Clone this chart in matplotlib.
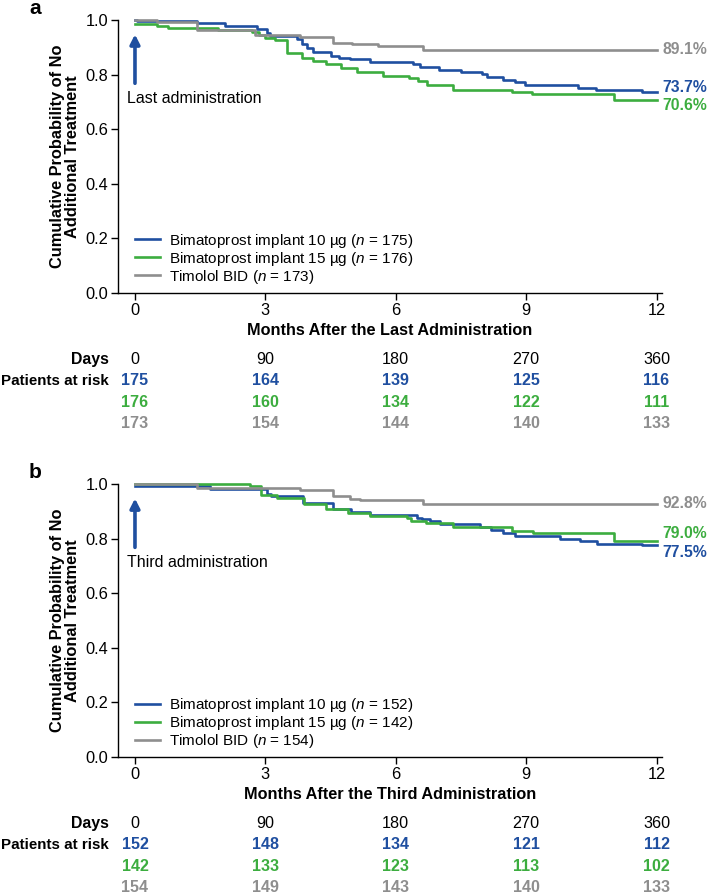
import matplotlib
matplotlib.use('Agg')
import matplotlib.pyplot as plt
import matplotlib.transforms as mtransforms

plt.rcParams['font.family'] = ['Liberation Sans', 'DejaVu Sans']
plt.rcParams['mathtext.fontset'] = 'custom'
plt.rcParams['mathtext.it'] = 'Liberation Sans:italic'
plt.rcParams['mathtext.rm'] = 'Liberation Sans'

BLUE = '#1f4fa0'
GREEN = '#3cad3f'
GRAY = '#8e8e8e'

# --- panel a: after the last administration ---
a_blue_t = [0, 0.05, 1.43, 2.07, 2.8, 3.03, 3.1, 3.72, 3.85, 3.95, 4.1, 4.52, 4.7, 4.94, 5.4,
            6.4, 6.55, 7.0, 7.5, 7.98, 8.1, 8.46, 8.74, 8.97, 10.2, 10.6, 11.66, 12]
a_blue_v = [1.0, 0.995, 0.987, 0.978, 0.967, 0.953, 0.941, 0.929, 0.912, 0.898, 0.884, 0.868, 0.86,
            0.856, 0.846, 0.838, 0.828, 0.818, 0.811, 0.801, 0.79, 0.781, 0.771, 0.763, 0.752, 0.744,
            0.737, 0.737]
a_green_t = [0, 0.5, 0.76, 1.9, 2.7, 2.85, 3.0, 3.22, 3.49, 3.84, 4.1, 4.4, 4.75, 5.1, 5.7, 6.3,
             6.52, 6.72, 7.31, 8.67, 9.13, 11.03, 12]
a_green_v = [0.985, 0.978, 0.972, 0.962, 0.955, 0.945, 0.933, 0.926, 0.878, 0.86, 0.848, 0.837,
             0.825, 0.811, 0.796, 0.786, 0.777, 0.762, 0.745, 0.736, 0.728, 0.706, 0.706]
a_gray_t = [0, 0.5, 1.43, 2.75, 3.8, 4.55, 5.0, 5.6, 6.62, 12]
a_gray_v = [1.0, 0.994, 0.963, 0.944, 0.939, 0.917, 0.911, 0.905, 0.891, 0.891]

# --- panel b: after the third administration ---
b_blue_t = [0, 1.72, 3.03, 3.14, 3.87, 4.56, 4.98, 5.4, 6.48, 6.6, 6.78, 7.01, 7.93, 8.2, 8.46,
            8.74, 9.77, 10.23, 10.64, 11.66, 12]
b_blue_v = [0.993, 0.982, 0.962, 0.956, 0.93, 0.908, 0.899, 0.887, 0.877, 0.871, 0.865, 0.855,
            0.843, 0.831, 0.822, 0.81, 0.798, 0.792, 0.782, 0.775, 0.775]
b_green_t = [0, 2.64, 2.9, 3.26, 3.9, 4.4, 4.9, 5.4, 6.25, 6.36, 6.7, 7.31, 8.67, 9.15, 11.03, 12]
b_green_v = [1.0, 0.993, 0.96, 0.95, 0.928, 0.91, 0.893, 0.884, 0.876, 0.866, 0.856, 0.842,
             0.827, 0.82, 0.79, 0.79]
b_gray_t = [0, 1.42, 3.8, 4.56, 4.94, 5.17, 6.62, 12]
b_gray_v = [1.0, 0.986, 0.978, 0.955, 0.945, 0.94, 0.928, 0.928]

months = [0, 3, 6, 9, 12]
days = ['0', '90', '180', '270', '360']

a_n = [175, 176, 173]
b_n = [152, 142, 154]
a_risk = [[175, 164, 139, 125, 116], [176, 160, 134, 122, 111], [173, 154, 144, 140, 133]]
b_risk = [[152, 148, 134, 121, 112], [142, 133, 123, 113, 102], [154, 149, 143, 140, 133]]
a_final = ['73.7%', '70.6%', '89.1%']
b_final = ['77.5%', '79.0%', '92.8%']
a_final_y = [0.751, 0.687, 0.891]
b_final_y = [0.748, 0.817, 0.927]

group_names = ['Bimatoprost implant 10 \u00b5g', 'Bimatoprost implant 15 \u00b5g', 'Timolol BID']
colors = [BLUE, GREEN, GRAY]


def draw_panel(ax, curves, ns, risk, finals, finals_y, xlabel, arrow_text):
    for (t, v), n, name, c in zip(curves, ns, group_names, colors):
        ax.step(t, v, where='post', color=c, lw=1.9, clip_on=False,
                label=name + r' ($\it{n}$ = %d)' % n)

    ax.set_xlim(-0.39, 12.12)
    ax.set_ylim(0, 1.0)
    ax.set_xticks(months)
    ax.set_yticks([0, 0.2, 0.4, 0.6, 0.8, 1.0])
    ax.set_yticklabels(['0.0', '0.2', '0.4', '0.6', '0.8', '1.0'])
    ax.tick_params(labelsize=11.8, length=5, width=1, pad=2)
    for s in ['top', 'right']:
        ax.spines[s].set_visible(False)
    for s in ['left', 'bottom']:
        ax.spines[s].set_linewidth(1)

    ax.set_xlabel(xlabel, fontsize=11.7, fontweight='bold', labelpad=4)
    ax.set_ylabel('Cumulative Probability of No\nAdditional Treatment', fontsize=11.8,
                  fontweight='bold', linespacing=0.95, labelpad=4)

    ax.legend(loc='center left', bbox_to_anchor=(0.031, 0.125), frameon=False, fontsize=11,
              handlelength=1.65, handletextpad=0.6, labelspacing=0.0, borderpad=0,
              borderaxespad=0)

    # arrow at time zero
    ax.annotate('', xy=(0, 0.947), xytext=(0, 0.768),
                arrowprops=dict(arrowstyle='-|>,head_length=0.55,head_width=0.28',
                                color=BLUE, lw=2.6, shrinkA=0, shrinkB=0), annotation_clip=False)
    ax.text(-0.18, 0.714, arrow_text, fontsize=11.5, va='center', ha='left')

    for lab, y, c in zip(finals, finals_y, colors):
        ax.text(12.14, y, lab, color=c, fontsize=11.3, fontweight='bold', va='center', ha='left')

    # numbers at risk
    tr = mtransforms.blended_transform_factory(ax.transData, ax.transAxes)
    ax.text(-0.6, -0.242, 'Days', transform=tr, ha='right', va='center', fontsize=11.4,
            fontweight='bold')
    ax.text(-0.6, -0.322, 'Patients at risk', transform=tr, ha='right', va='center',
            fontsize=10.9, fontweight='bold')
    for m, d in zip(months, days):
        ax.text(m, -0.242, d, transform=tr, ha='center', va='center', fontsize=11.6)
    for row, yy, c in zip(risk, [-0.322, -0.400, -0.478], colors):
        for m, val in zip(months, row):
            ax.text(m, yy, str(val), transform=tr, ha='center', va='center', fontsize=11.6,
                    fontweight='bold', color=c)


fig = plt.figure(figsize=(7.08, 8.94), dpi=100)
ax_a = fig.add_axes([0.1667, 0.6723, 0.768, 0.3054])
ax_b = fig.add_axes([0.1667, 0.1532, 0.768, 0.3054])

draw_panel(ax_a, [(a_blue_t, a_blue_v), (a_green_t, a_green_v), (a_gray_t, a_gray_v)],
           a_n, a_risk, a_final, a_final_y, 'Months After the Last Administration',
           'Last administration')
draw_panel(ax_b, [(b_blue_t, b_blue_v), (b_green_t, b_green_v), (b_gray_t, b_gray_v)],
           b_n, b_risk, b_final, b_final_y, 'Months After the Third Administration',
           'Third administration')

fig.text(0.041, 0.991, 'a', fontsize=15, fontweight='bold', va='center', ha='left')
fig.text(0.041, 0.472, 'b', fontsize=15, fontweight='bold', va='center', ha='left')

fig.savefig('out.png', dpi=100)
